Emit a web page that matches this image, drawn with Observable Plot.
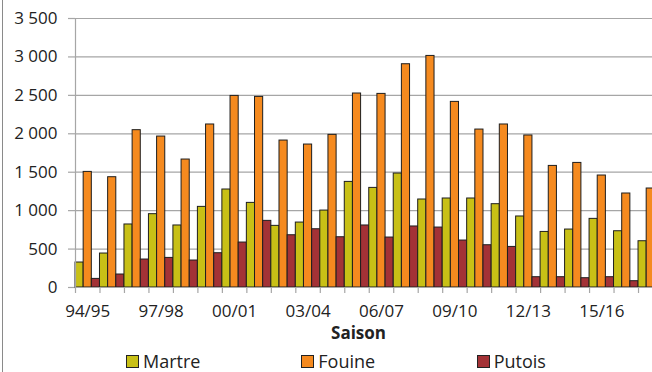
<!DOCTYPE html>
<html>
<head>
<meta charset="utf-8">
<script src="https://cdn.jsdelivr.net/npm/d3@7"></script>
<script src="https://cdn.jsdelivr.net/npm/@observablehq/plot@0.6"></script>
<style>
  html, body { margin: 0; padding: 0; background: #fff; overflow: hidden; }
  body { width: 652px; height: 372px; position: relative; font-family: "Open Sans", sans-serif; color: #222; }
  #frame { position: absolute; left: 2px; top: 0; height: 372px; border-left: 1px solid #8a8a8a; }
  #legend { position: absolute; left: 0; top: 350px; width: 652px; height: 22px; display: flex; padding-left: 126px; box-sizing: border-box; font-size: 18px; line-height: 22px; }
  .item { display: flex; align-items: center; width: 184px; }
  .sw { width: 11px; height: 11px; border: 1px solid #222; margin-right: 4px; }
</style>
</head>
<body>
<div id="chart"></div>
<div id="frame"></div>
<div id="legend"></div>
<script>
const seasons = ["94/95","95/96","96/97","97/98","98/99","99/00","00/01","01/02","02/03","03/04","04/05","05/06","06/07","07/08","08/09","09/10","10/11","11/12","12/13","13/14","14/15","15/16","16/17","17/18"];
const martre = [325, 442, 820, 954, 807, 1049, 1275, 1101, 802, 845, 1001, 1374, 1296, 1483, 1145, 1158, 1158, 1084, 924, 723, 754, 893, 732, 602];
const fouine = [1504, 1435, 2047, 1964, 1665, 2121, 2493, 2480, 1912, 1860, 1986, 2524, 2519, 2905, 3013, 2415, 2055, 2121, 1978, 1582, 1621, 1457, 1223, 1288];
const putois = [112, 169, 364, 385, 351, 446, 585, 867, 680, 758, 654, 807, 650, 794, 780, 611, 550, 528, 134, 134, 121, 134, 82, 60];
const seriesNames = ["Martre", "Fouine", "Putois"];
const seriesColors = ["#c8c016", "#f58a1f", "#a33236"];
const yTicks = [0, 500, 1000, 1500, 2000, 2500, 3000, 3500];
const labelEvery = 3;

const seriesValues = [martre, fouine, putois];
const rows = [];
seasons.forEach((s, i) => {
  seriesValues.forEach((vals, k) => {
    rows.push({season: s, series: seriesNames[k], x1: i + k / 3, x2: i + (k + 1) / 3, value: vals[i]});
  });
});
const labelPos = seasons.map((s, i) => i).filter(i => i % labelEvery === 0);
const fmt = d => d3.format(",")(d).replace(/,/g, " ");
const grid = "#a6a6a6";

const chart = Plot.plot({
  width: 652,
  height: 348,
  marginLeft: 75,
  marginRight: -10.5,
  marginTop: 18,
  marginBottom: 61,
  style: {fontFamily: "Open Sans, sans-serif", fontSize: "17px", color: "#222", overflow: "hidden", background: "#fff"},
  x: {type: "linear", domain: [0, seasons.length]},
  y: {domain: [0, 3500]},
  color: {domain: seriesNames, range: seriesColors},
  marks: [
    Plot.gridY({ticks: yTicks, stroke: grid, strokeOpacity: 1, strokeWidth: 1.2}),
    Plot.axisY({ticks: yTicks, tickSize: 7, stroke: grid, strokeOpacity: 1, strokeWidth: 1.2, tickFormat: null, text: null, label: null}),
    Plot.axisY({ticks: yTicks, tickSize: 0, tickPadding: 18, tickFormat: fmt, label: null, fill: "#222", fontSize: 17}),
    Plot.axisX({ticks: d3.range(seasons.length + 1), tickSize: 6, stroke: grid, strokeOpacity: 1, strokeWidth: 1.2, tickFormat: () => "", label: null}),
    Plot.axisX({ticks: labelPos.map(i => i + 0.5), tickSize: 0, tickPadding: 17, tickFormat: d => seasons[Math.floor(d)], label: null, fill: "#222", fontSize: 17}),
    Plot.rectY(rows, {x1: "x1", x2: "x2", y: "value", fill: "series", stroke: "#1e1e1e", strokeWidth: 1}),
    Plot.ruleX([0], {stroke: grid, strokeWidth: 1.2}),
    Plot.ruleY([0], {stroke: grid, strokeWidth: 1.2}),
    Plot.text(["Saison"], {frameAnchor: "bottom", dx: -10.75, dy: 51, text: d => d, fontWeight: "bold", fontSize: 17, fill: "#222"})
  ]
});
document.getElementById("chart").appendChild(chart);

const legend = document.getElementById("legend");
seriesNames.forEach((n, k) => {
  const it = document.createElement("div");
  it.className = "item";
  const sw = document.createElement("span");
  sw.className = "sw";
  sw.style.background = seriesColors[k];
  const t = document.createElement("span");
  t.textContent = n;
  it.appendChild(sw); it.appendChild(t);
  legend.appendChild(it);
});
</script>
</body>
</html>
